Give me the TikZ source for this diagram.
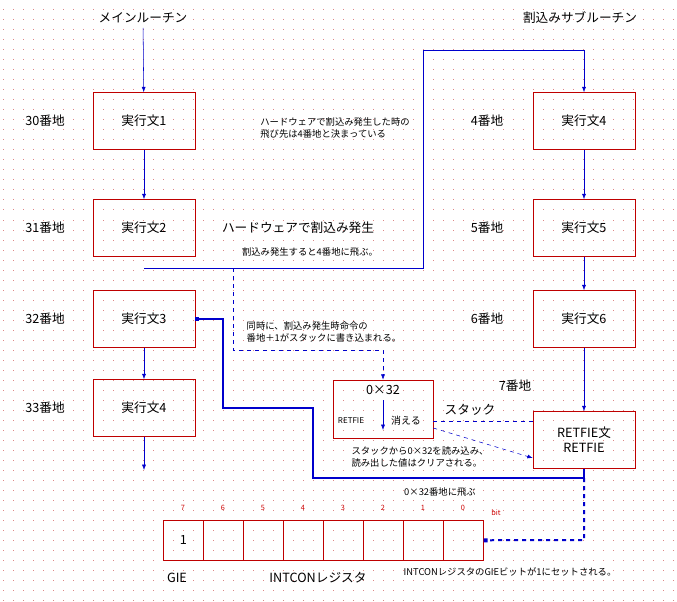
\documentclass[tikz,border=0pt]{standalone}
\usepackage{fontspec}
\setmainfont{Noto Sans CJK JP}
\usetikzlibrary{arrows.meta, positioning}
\begin{document}
\begin{tikzpicture}[x=0.75pt, y=-0.75pt,
		stmt/.style={rectangle,draw=red!75!black,minimum width=76.5pt,minimum height=42.75pt,font=\fontsize{9.5}{11}\selectfont,inner sep=0pt},
		cell/.style={rectangle,draw=red!75!black,minimum width=30pt,minimum height=30pt,inner sep=0pt,anchor=north west},
		lbl/.style={font=\fontsize{9.5}{11}\selectfont},
		note/.style={font=\fontsize{7}{8.5}\selectfont,align=left},
		bitno/.style={font=\fontsize{5.5}{6}\selectfont,text=red!80!black},
		flow/.style={draw=blue!80!black,-{Latex[length=4pt,width=3pt]}},
		hop/.style={draw=blue!80!black,dashed,-{Latex[length=4pt,width=3pt]}}
		]
	\useasboundingbox (0,0) rectangle (677,602);
	\fill[white] (0,0) rectangle (677,602);
	% dotted grid
	\foreach \y in {10,20,...,600}
		\draw[red!60!gray!60,line width=0.75pt,dash pattern=on 0.75pt off 6.75pt] (3,\y) -- (677,\y);

	% main routine
	\node[lbl] (main) at (143,18) {メインルーチン};
	\node[stmt] (S1) at (144,121) {実行文1};
	\node[stmt] (S2) at (144,228) {実行文2};
	\node[stmt] (S3) at (144,319) {実行文3};
	\node[stmt] (S4) at (144,408) {実行文4};
	\coordinate (end) at (144,470);
	\node[lbl] (A30) at (45,121) {30番地};
	\node[lbl] (A31) at (45,228) {31番地};
	\node[lbl] (A32) at (45,319) {32番地};
	\node[lbl] (A33) at (45,408) {33番地};
	\draw[flow] (main) -- (S1);
	\draw[flow] (S1) -- (S2);
	\draw[flow] (S3) -- (S4);
	\draw[flow] (S4) -- (end);

	% interrupt subroutine
	\node[lbl] (sub) at (580,18) {割込みサブルーチン};
	\node[stmt] (S5) at (584,121) {実行文4};
	\node[stmt] (S6) at (584,228) {実行文5};
	\node[stmt] (S7) at (584,319) {実行文6};
	\node[stmt,align=center] (RT) at (584,440) {RETFIE文\\RETFIE};
	\node[lbl] (A4) at (487,121) {4番地};
	\node[lbl] (A5) at (487,228) {5番地};
	\node[lbl] (A6) at (487,319) {6番地};
	\node[lbl] (A7) at (515,386) {7番地};
	\draw[flow] (S5) -- (S6);
	\draw[flow] (S6) -- (S7);
	\draw[flow] (S7) -- (RT);

	% stack
	\node[rectangle,draw=red!75!black,minimum width=75pt,minimum height=43.5pt] (stk) at (383,409) {};
	\node[lbl] (val) at (383,390) {0×32};
	\node[font=\fontsize{6}{7}\selectfont] (ret) at (351,421) {RETFIE};
	\node[font=\fontsize{7.5}{9}\selectfont] (gone) at (406,421) {消える};
	\coordinate (vtop) at (383,400);
	\coordinate (vbot) at (383,430);
	\draw[flow] (vtop) -- (vbot);
	\node[lbl] (stklbl) at (470,410) {スタック};

	% register
	\foreach \i in {0,...,7}{
		\node[cell] (R\i) at ({163+40*\i},520) {};
		\node[bitno] at ({183+40*\i},508) {\number\numexpr7-\i\relax};
	}
	\node[lbl] at (R0.center) {1};
	\node[bitno] at (496,513) {bit};
	\node[lbl] (gie) at (177,578) {GIE};
	\node[lbl] (intcon) at (318,578) {INTCONレジスタ};

	% jump to subroutine
	\coordinate (j0) at (144,268);
	\draw[flow] (j0) -- (423,268) -- (423,50) -- (584,50) -- (S5);
	\draw[hop] (233,268) -- (233,350) -- (383,350) -- (stk);
	% return
	\draw[draw=blue!80!black,line width=1.5pt,-{Square[length=3pt,width=3pt]}] (RT) -- (584,478) -- (313,478) -- (313,408) -- (223,408) -- (223,319) -- (S3);
	\draw[draw=blue!80!black,line width=1.5pt,dashed,-{Square[length=3pt,width=3pt]}] (584,478) -- (584,540) -- (R7.east);
	\draw[draw=blue!80!black,dashed] (stk.east |- 0,421) -- (RT.west |- 0,421);
	\draw[hop] (stk.east |- 0,428) -- (RT.west |- 0,458);

	% notes
	\node[note] at (335,128) {ハードウェアで割込み発生した時の\\飛び先は4番地と決まっている};
	\node[lbl] at (298,228) {ハードウェアで割込み発生};
	\node[note] at (310,252) {割込み発生すると4番地に飛ぶ。};
	\node[note,anchor=west] at (242,332) {同時に、割込み発生時命令の\\番地＋1がスタックに書き込まれる。};
	\node[note] at (420,457) {スタックから0×32を読み込み、\\読み出した値はクリアされる。};
	\node[note] at (440,492) {0×32番地に飛ぶ};
	\node[note] at (510,572) {INTCONレジスタのGIEビットが1にセットされる。};
\end{tikzpicture}
\end{document}
